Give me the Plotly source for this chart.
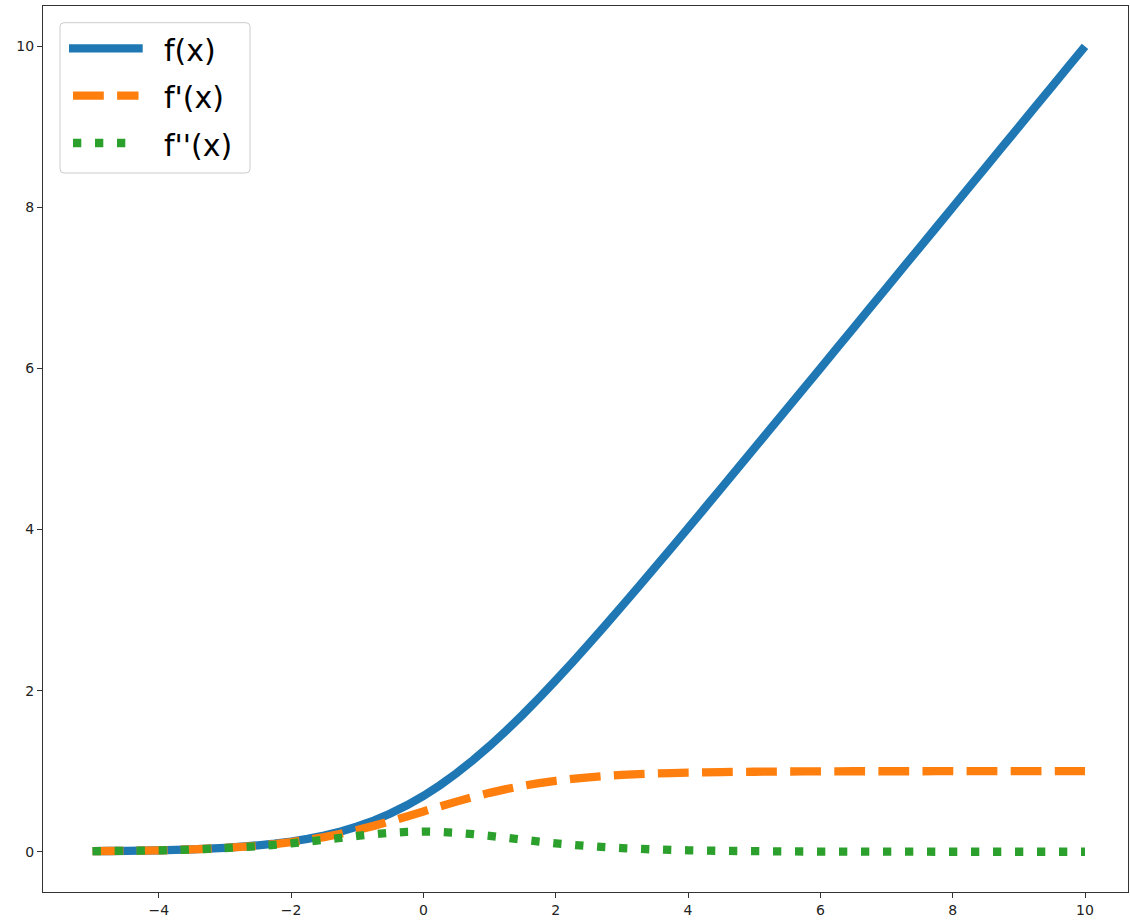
import plotly.graph_objects as go

# Sampled curve values, x from -5 to 10 in steps of 0.25
x_vals = [-5.0, -4.75, -4.5, -4.25, -4.0, -3.75, -3.5, -3.25, -3.0, -2.75,
          -2.5, -2.25, -2.0, -1.75, -1.5, -1.25, -1.0, -0.75, -0.5, -0.25,
          0.0, 0.25, 0.5, 0.75, 1.0, 1.25, 1.5, 1.75, 2.0, 2.25,
          2.5, 2.75, 3.0, 3.25, 3.5, 3.75, 4.0, 4.25, 4.5, 4.75,
          5.0, 5.25, 5.5, 5.75, 6.0, 6.25, 6.5, 6.75, 7.0, 7.25,
          7.5, 7.75, 8.0, 8.25, 8.5, 8.75, 9.0, 9.25, 9.5, 9.75, 10.0]
f_vals = [0.007, 0.009, 0.011, 0.014, 0.018, 0.023, 0.030, 0.038, 0.049, 0.062,
          0.079, 0.100, 0.127, 0.160, 0.201, 0.252, 0.313, 0.387, 0.474, 0.576,
          0.693, 0.826, 0.974, 1.137, 1.313, 1.502, 1.701, 1.910, 2.127, 2.350,
          2.579, 2.812, 3.049, 3.288, 3.530, 3.773, 4.018, 4.264, 4.511, 4.759,
          5.007, 5.255, 5.504, 5.753, 6.002, 6.252, 6.502, 6.751, 7.001, 7.251,
          7.501, 7.750, 8.000, 8.250, 8.500, 8.750, 9.000, 9.250, 9.500, 9.750, 10.000]
df_vals = [0.007, 0.009, 0.011, 0.014, 0.018, 0.023, 0.029, 0.037, 0.047, 0.060,
           0.076, 0.095, 0.119, 0.148, 0.182, 0.223, 0.269, 0.321, 0.378, 0.438,
           0.500, 0.562, 0.622, 0.679, 0.731, 0.777, 0.818, 0.852, 0.881, 0.905,
           0.924, 0.940, 0.953, 0.963, 0.971, 0.977, 0.982, 0.986, 0.989, 0.991,
           0.993, 0.995, 0.996, 0.997, 0.998, 0.998, 0.999, 0.999, 0.999, 0.999,
           0.999, 1.000, 1.000, 1.000, 1.000, 1.000, 1.000, 1.000, 1.000, 1.000, 1.000]
d2f_vals = [0.007, 0.009, 0.011, 0.014, 0.018, 0.022, 0.028, 0.036, 0.045, 0.056,
            0.070, 0.086, 0.105, 0.126, 0.149, 0.173, 0.197, 0.218, 0.235, 0.246,
            0.250, 0.246, 0.235, 0.218, 0.197, 0.173, 0.149, 0.126, 0.105, 0.086,
            0.070, 0.056, 0.045, 0.036, 0.028, 0.022, 0.018, 0.014, 0.011, 0.009,
            0.007, 0.005, 0.004, 0.003, 0.002, 0.002, 0.002, 0.001, 0.001, 0.001,
            0.001, 0.000, 0.000, 0.000, 0.000, 0.000, 0.000, 0.000, 0.000, 0.000, 0.000]

labels = ["f(x)", "f'(x)", "f''(x)"]
colors = ["#1f77b4", "#ff7f0e", "#2ca02c"]
dashes = ["solid", "30.8px,13.3px", "8.3px,13.7px"]
x_ticks = [-4, -2, 0, 2, 4, 6, 8, 10]
y_ticks = [0, 2, 4, 6, 8, 10]

W, H = 1130, 923
PL, PR, PT, PB = 43, 1128, 6, 892
LW = 8.3


def px(x):
    return (x - PL) / (PR - PL)


def py(y):
    return (PB - y) / (PB - PT)


fig = go.Figure()
for ys, name, c, d in zip([f_vals, df_vals, d2f_vals], labels, colors, dashes):
    fig.add_trace(go.Scatter(x=x_vals, y=ys, mode="lines", name=name,
                             line=dict(color=c, width=LW, dash=d, simplify=False),
                             showlegend=False))

# Legend frame with rounded corners
bx0, by0, bx1, by1, r = 60, 22.7, 250, 173, 4
path = (f"M {px(bx0 + r)} {py(by0)} L {px(bx1 - r)} {py(by0)} "
        f"Q {px(bx1)} {py(by0)} {px(bx1)} {py(by0 + r)} "
        f"L {px(bx1)} {py(by1 - r)} Q {px(bx1)} {py(by1)} {px(bx1 - r)} {py(by1)} "
        f"L {px(bx0 + r)} {py(by1)} Q {px(bx0)} {py(by1)} {px(bx0)} {py(by1 - r)} "
        f"L {px(bx0)} {py(by0 + r)} Q {px(bx0)} {py(by0)} {px(bx0 + r)} {py(by0)} Z")
shapes = [dict(type="path", path=path, xref="paper", yref="paper",
               line=dict(color="#cccccc", width=1), fillcolor="rgba(255,255,255,0.8)",
               layer="above")]
annotations = []
row_y = [48.3, 95.7, 143.0]
for i, (name, c, d) in enumerate(zip(labels, colors, dashes)):
    x0, x1 = (69, 142.7) if d == "solid" else (73, 138.5)
    shapes.append(dict(type="line", xref="paper", yref="paper",
                       x0=px(x0), x1=px(x1), y0=py(row_y[i]), y1=py(row_y[i]),
                       line=dict(color=c, width=LW, dash=d), layer="above"))
    annotations.append(dict(text=name, xref="paper", yref="paper",
                            x=px(162), y=py(row_y[i] + 2), xanchor="left", yanchor="middle",
                            showarrow=False,
                            font=dict(family="DejaVu Sans", size=30, color="#000000")))

axis_common = dict(showline=True, mirror=True, linecolor="#333333", linewidth=1.1,
                   showgrid=False, zeroline=False, ticks="outside", ticklen=5,
                   tickwidth=1.1, tickcolor="#333333",
                   tickfont=dict(family="DejaVu Sans", size=14, color="#222222"))

fig.update_layout(
    width=W, height=H,
    margin=dict(l=PL, r=W - PR, t=PT, b=H - PB, autoexpand=False),
    paper_bgcolor="white", plot_bgcolor="white",
    xaxis=dict(range=[-5.75, 10.65], tickvals=x_ticks, **axis_common),
    yaxis=dict(range=[-0.5, 10.5], tickvals=y_ticks, **axis_common),
    shapes=shapes, annotations=annotations,
)

fig.write_html("out.html")
